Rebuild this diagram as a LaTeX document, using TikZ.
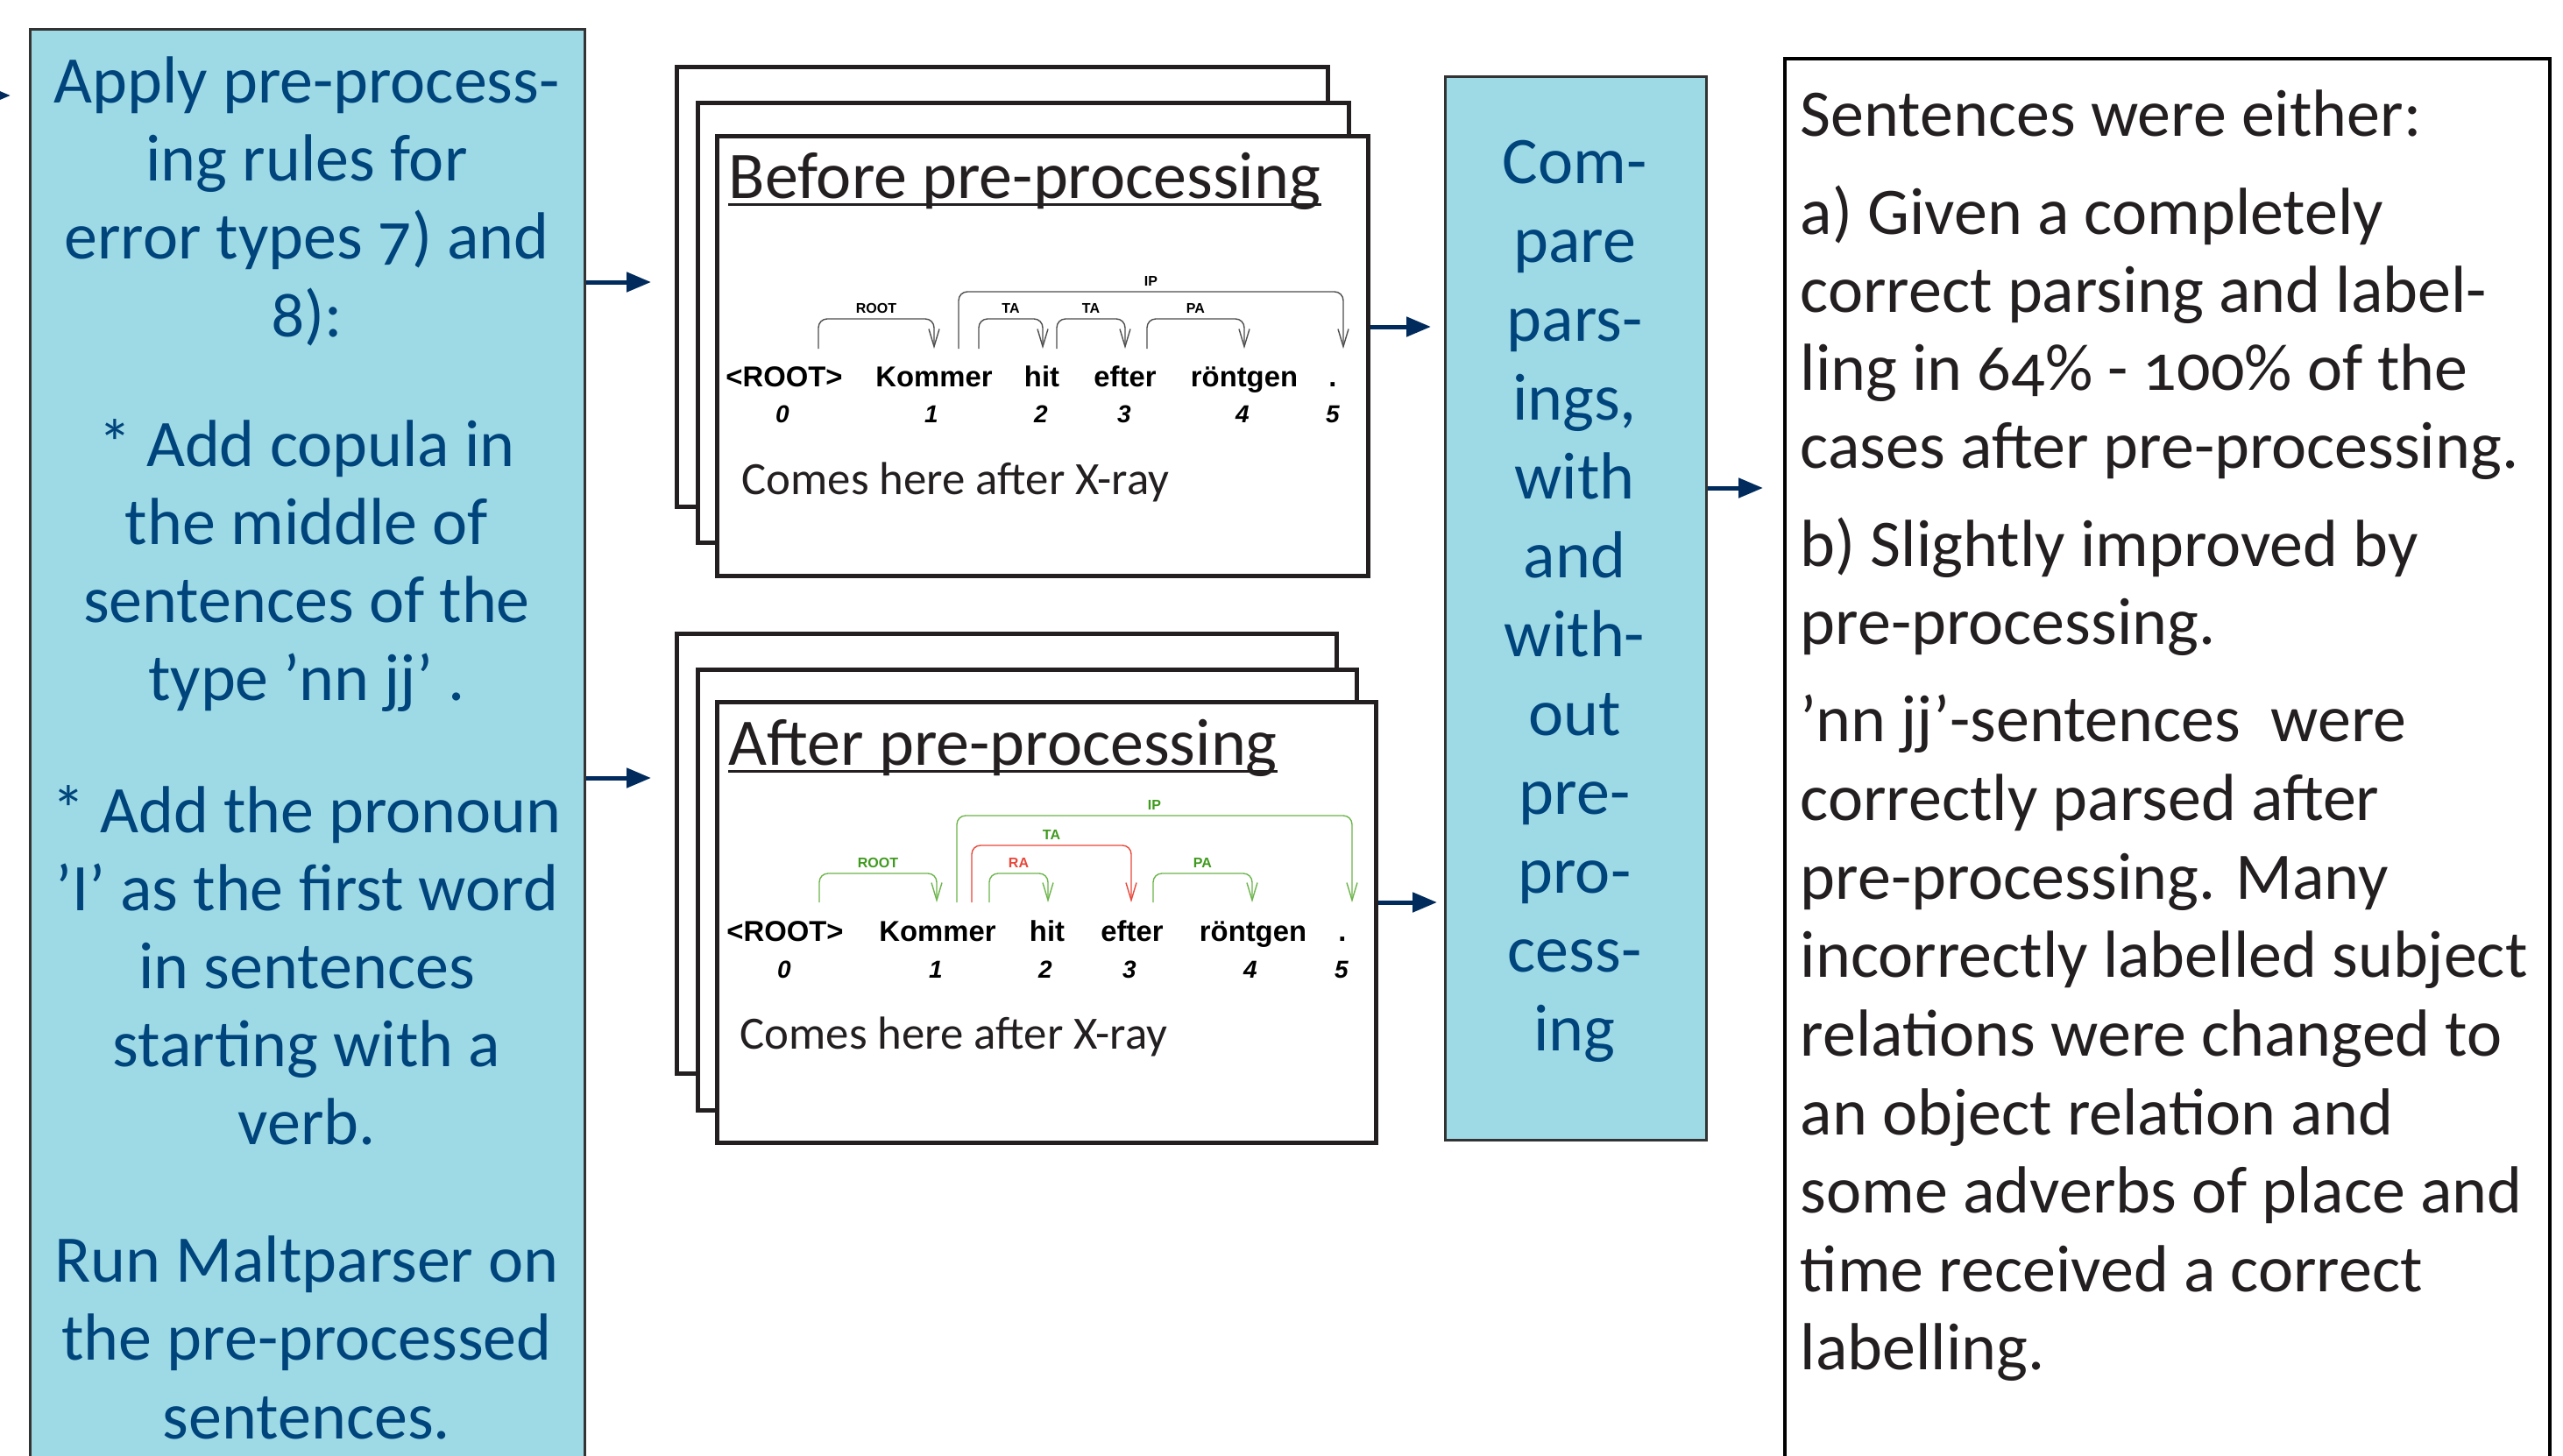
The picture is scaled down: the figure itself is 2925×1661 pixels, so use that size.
\documentclass[tikz,border=0pt]{standalone}
\usepackage{fontspec}
\setmainfont{Carlito}[Numbers=OldStyle]
\newfontfamily\pf{Liberation Sans}
\usetikzlibrary{arrows.meta}
\definecolor{boxfill}{HTML}{9ED9E6}
\definecolor{bluetxt}{HTML}{00447C}
\definecolor{navy}{HTML}{002B5C}
\definecolor{ink}{HTML}{231F20}
\definecolor{arcgray}{HTML}{4D4D4D}
\definecolor{lgreen}{HTML}{6CB54A}
\definecolor{dgreen}{HTML}{3F9A1E}
\definecolor{lred}{HTML}{E8473A}
\newcommand{\deparc}[6]{%
  \draw[arcline,#5] (#1,#4) -- (#1,#3) -- (#2,#3) -- (#2,#4);
  \node[arclabel,text=#6] at ({(#1+#2)/2},#3) {\dlab};}
\begin{document}
\begin{tikzpicture}[x=0.25pt,y=-0.25pt,
  sz/.style 2 args={minimum width=#1*0.25pt,minimum height=#2*0.25pt,inner sep=0pt,anchor=north west},
  bluebox/.style={draw=black!80,fill=boxfill,line width=0.75pt},
  textbox/.style={draw=black,fill=white,line width=1pt},
  sheet/.style={draw=ink,fill=white,line width=1.25pt},
  arr/.style={draw=navy,line width=1.25pt,-{Triangle[length=7pt,width=5.5pt]}},
  bluetext/.style={text=bluetxt,font=\fontsize{19}{22}\selectfont,inner sep=0pt,anchor=base},
  righttext/.style={text=ink,font=\fontsize{19}{22}\selectfont,inner sep=0pt,anchor=base west},
  title/.style={text=ink,font=\fontsize{19}{22}\selectfont,inner sep=0pt,anchor=base west},
  gloss/.style={text=ink,font=\fontsize{13.2}{15}\selectfont,inner sep=0pt,anchor=base west},
  word/.style={text=black,font=\pf\bfseries\fontsize{8.2}{9}\selectfont,inner sep=0pt,anchor=base},
  num/.style={text=black,font=\pf\bfseries\itshape\fontsize{7}{8}\selectfont,inner sep=0pt,anchor=base},
  arcline/.style={line width=0.35pt,rounded corners=2.5pt,-{Straight Barb[length=5pt,width=3pt]}},
  arclabel/.style={font=\pf\bfseries\fontsize{4}{5}\selectfont,inner sep=0pt,anchor=south,yshift=1.5pt}]
\useasboundingbox (0,0) rectangle (2925,1661);
\clip (0,0) rectangle (2925,1661);
\fill[white] (0,0) rectangle (2925,1661);

% main boxes
\node[bluebox,sz={633}{1700}] (lbox) at (33,32) {};
\node[bluebox,sz={298}{1214}] (cmp) at (1648,86) {};
\node[textbox,sz={873}{1700}] (rbox) at (2035,65) {};

% before stack
\node[sheet,sz={743}{502}] (bback) at (770,74) {};
\node[sheet,sz={743}{502}] (bmid) at (794,115) {};
\node[sheet,sz={743}{502}] (bfront) at (816,153) {};
% after stack
\node[sheet,sz={753}{502}] (aback) at (770,721) {};
\node[sheet,sz={752}{503}] (amid) at (794,762) {};
\node[sheet,sz={752}{503}] (afront) at (816,799) {};

% left box text
\foreach \yy/\txt [count=\i] in {117/Apply pre-process-,206/ing rules for,295/error types 7) and,384/8):,
  532/* Add copula in,621/the middle of,710/sentences of the,799/type ’nn jj’ .,
  950/* Add the pronoun,1039/’I’ as the first word,1128/in sentences,1217/starting with a,1306/verb.,
  1463/Run Maltparser on,1552/the pre-processed,1642/sentences.}
  \node[bluetext] (lt\i) at (350,\yy) {\txt};

% compare box text
\foreach \yy/\txt [count=\i] in {209/Com-,299/pare,389/pars-,479/{ings,},569/with,659/and,749/with-,839/out,929/pre-,1019/pro-,1109/cess-,1199/ing}
  \node[bluetext] (ct\i) at (1797,\yy) {\txt};

% right box text
\foreach \yy/\txt [count=\i] in {155/Sentences were either:,267/a) Given a completely,356/correct parsing and label-,
  445/ling in 64\% - 100\% of the,534/cases after pre-processing.,646/b) Slightly improved by,735/pre-processing.,
  846/’nn jj’-sentences\ \ were,936/correctly parsed after,1026/pre-processing. Many,1115/incorrectly labelled subject,
  1205/relations were changed to,1295/an object relation and,1384/some adverbs of place and,1474/time received a correct,1563/labelling.}
  \node[righttext] (rt\i) at (2054,\yy) {\txt};

% titles
\node[title] (bt) at (831,226) {Before pre-processing};
\draw[ink,line width=0.75pt] ([yshift=-1.75pt]bt.base west) -- ([yshift=-1.75pt]bt.base east);
\node[title] (at) at (831,873) {After pre-processing};
\draw[ink,line width=0.75pt] ([yshift=-1.75pt]at.base west) -- ([yshift=-1.75pt]at.base east);

% before parse
\node[word] (bw0) at (895,441) {<ROOT>};
\node[word] (bw1) at (1066,441) {Kommer};
\node[word] (bw2) at (1189,441) {hit};
\node[word] (bw3) at (1284,441) {efter};
\node[word] (bw4) at (1420,441) {röntgen};
\node[word] (bw5) at (1521,441) {.};
\node[num] (bn0) at (893,482) {0};
\node[num] (bn1) at (1063,482) {1};
\node[num] (bn2) at (1188,482) {2};
\node[num] (bn3) at (1283,482) {3};
\node[num] (bn4) at (1418,482) {4};
\node[num] (bn5) at (1521,482) {5};
\def\dlab{ROOT}\deparc{934}{1066}{364}{398}{arcgray}{black}
\def\dlab{TA}\deparc{1117}{1190}{364}{398}{arcgray}{black}
\def\dlab{TA}\deparc{1206}{1284}{364}{398}{arcgray}{black}
\def\dlab{PA}\deparc{1309}{1420}{364}{398}{arcgray}{black}
\def\dlab{IP}\deparc{1094}{1533}{333}{398}{arcgray}{black}
\node[gloss] (bg) at (846,564) {Comes here after X-ray};

% after parse
\node[word] (aw0) at (896,1074) {<ROOT>};
\node[word] (aw1) at (1070,1074) {Kommer};
\node[word] (aw2) at (1195,1074) {hit};
\node[word] (aw3) at (1292,1074) {efter};
\node[word] (aw4) at (1430,1074) {röntgen};
\node[word] (aw5) at (1532,1074) {.};
\node[num] (an0) at (895,1116) {0};
\node[num] (an1) at (1068,1116) {1};
\node[num] (an2) at (1193,1116) {2};
\node[num] (an3) at (1289,1116) {3};
\node[num] (an4) at (1427,1116) {4};
\node[num] (an5) at (1531,1116) {5};
\def\dlab{ROOT}\deparc{935}{1069}{997}{1030}{lgreen}{dgreen}
\def\dlab{IP}\deparc{1092}{1543}{931}{1030}{lgreen}{dgreen}
\def\dlab{TA}\deparc{1109}{1291}{965}{1030}{lred}{dgreen}
\def\dlab{RA}\deparc{1129}{1196}{997}{1030}{lgreen}{lred}
\def\dlab{PA}\deparc{1316}{1429}{997}{1030}{lgreen}{dgreen}
\node[gloss] (ag) at (844,1197) {Comes here after X-ray};

% arrows
\coordinate (inA) at (-40,109);
\coordinate (inB) at (12,109);
\draw[arr] (inA) -- (inB);
\coordinate (y1) at (0,322);
\draw[arr,shorten >=6.75pt] (lbox.east |- y1) -- (bback.west |- y1);
\coordinate (y2) at (0,888);
\draw[arr,shorten >=6.75pt] (lbox.east |- y2) -- (aback.west |- y2);
\coordinate (y3) at (0,373);
\draw[arr,shorten >=3.75pt] (bfront.east |- y3) -- (cmp.west |- y3);
\coordinate (y4) at (0,1030);
\draw[arr,shorten >=2pt] (afront.east |- y4) -- (cmp.west |- y4);
\coordinate (y5) at (0,557);
\draw[arr,shorten >=5.75pt] (cmp.east |- y5) -- (rbox.west |- y5);
\end{tikzpicture}
\end{document}
